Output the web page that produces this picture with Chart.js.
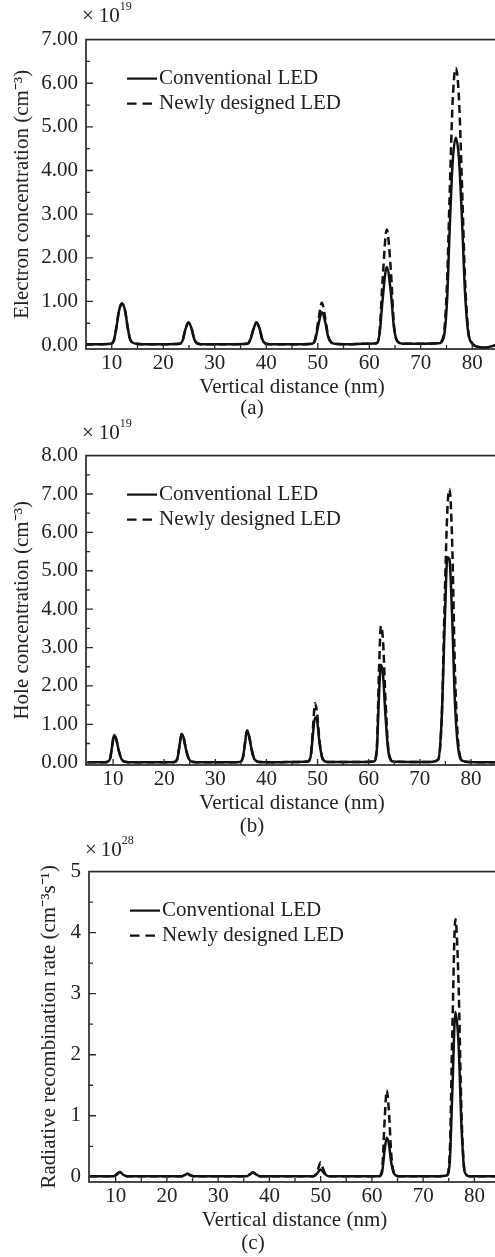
<!DOCTYPE html>
<html>
<head>
<meta charset="utf-8">
<script src="https://cdn.jsdelivr.net/npm/chart.js"></script>
<style>
body { margin: 0; width: 495px; height: 1257px; overflow: hidden; background: #fff; position: relative; font-family: "Liberation Serif", serif; color: #222; }
canvas { position: absolute; left: 0; }
.exp { position: absolute; font-size: 21px; line-height: 21px; white-space: nowrap; }
.exp sup { font-size: 12px; vertical-align: baseline; position: relative; top: -12px; }
.cap { position: absolute; width: 60px; text-align: center; font-size: 21px; line-height: 21px; }
</style>
</head>
<body>
<canvas id="chartA" width="500" height="381" style="top:19px"></canvas>
<canvas id="chartB" width="500" height="381" style="top:435px"></canvas>
<canvas id="chartC" width="502" height="382" style="top:851px"></canvas>

<div class="exp" style="left:82px;top:5px">×<span style="padding-left:5px">10</span><sup>19</sup></div>
<div class="exp" style="left:82px;top:422px">×<span style="padding-left:5px">10</span><sup>19</sup></div>
<div class="exp" style="left:85px;top:839px">×<span style="padding-left:4px">10</span><sup>28</sup></div>

<div class="cap" style="left:222px;top:397px">(a)</div>
<div class="cap" style="left:222px;top:815px">(b)</div>
<div class="cap" style="left:223px;top:1232px">(c)</div>

<script>
// labels and ticks
const seriesLabels = ['Conventional LED', 'Newly designed LED'];
const xTicks = [10, 20, 30, 40, 50, 60, 70, 80];
const yTicksA = [0, 1, 2, 3, 4, 5, 6, 7];
const yTicksB = [0, 1, 2, 3, 4, 5, 6, 7, 8];
const yTicksC = [0, 1, 2, 3, 4, 5];

// (a) electron concentration, x1e19 cm-3
const xA = [5, 8, 9.8, 10.4, 10.9, 11.4, 12.0, 12.6, 13.1, 13.6, 14.4, 16,
    20, 23.2, 23.8, 24.3, 24.9, 25.5, 26.0, 26.6, 27.4, 30,
    33, 36.3, 36.9, 37.5, 38.1, 38.7, 39.2, 39.8, 40.6, 44,
    47, 48.9, 49.5, 50.1, 50.8, 51.5, 52.0, 52.6, 53.4, 56,
    59, 61.4, 62.0, 62.6, 63.4, 64.2, 64.8, 65.5, 66.5, 70,
    73.4, 74.4, 75.1, 75.6, 76.2, 76.8, 77.4, 78.0, 78.6, 79.2, 80.0, 81.2, 82.5, 84, 85];
const convA = [0.02, 0.02, 0.03, 0.10, 0.40, 0.78, 0.95, 0.78, 0.40, 0.12, 0.04, 0.02,
    0.02, 0.03, 0.12, 0.36, 0.52, 0.38, 0.14, 0.04, 0.02, 0.02,
    0.02, 0.03, 0.12, 0.36, 0.52, 0.38, 0.14, 0.04, 0.02, 0.02,
    0.02, 0.03, 0.12, 0.45, 0.75, 0.50, 0.20, 0.06, 0.03, 0.02,
    0.03, 0.04, 0.25, 1.05, 1.79, 1.20, 0.40, 0.08, 0.03, 0.03,
    0.04, 0.15, 1.00, 2.60, 4.20, 4.75, 4.30, 2.90, 1.20, 0.30, 0.04, -0.04, -0.06, -0.02, 0.01];
const newA = [0.02, 0.02, 0.03, 0.10, 0.40, 0.78, 0.95, 0.78, 0.40, 0.12, 0.04, 0.02,
    0.02, 0.03, 0.12, 0.36, 0.52, 0.38, 0.14, 0.04, 0.02, 0.02,
    0.02, 0.03, 0.12, 0.36, 0.52, 0.38, 0.14, 0.04, 0.02, 0.02,
    0.02, 0.03, 0.14, 0.55, 0.97, 0.58, 0.22, 0.06, 0.03, 0.02,
    0.03, 0.04, 0.30, 1.50, 2.65, 1.70, 0.45, 0.08, 0.03, 0.03,
    0.04, 0.20, 1.40, 3.40, 5.60, 6.35, 5.70, 3.70, 1.50, 0.35, 0.04, -0.04, -0.06, -0.02, 0.01];

// (b) hole concentration, x1e19 cm-3
const xB = [5, 8, 8.8, 9.4, 9.8, 10.2, 10.6, 11.1, 11.7, 12.6, 15,
    20, 22.0, 22.6, 23.0, 23.4, 23.8, 24.3, 24.9, 25.8, 28,
    33, 34.8, 35.4, 35.8, 36.2, 36.6, 37.1, 37.7, 38.6, 42,
    46, 48.1, 48.7, 49.1, 49.5, 49.9, 50.4, 51.0, 51.9, 55,
    59, 61.0, 61.6, 62.0, 62.4, 62.8, 63.3, 63.9, 64.8, 68,
    72, 73.6, 74.3, 74.9, 75.4, 75.8, 76.3, 76.9, 77.6, 78.5, 81, 85.3];
const convB = [0.01, 0.01, 0.02, 0.10, 0.42, 0.72, 0.62, 0.32, 0.08, 0.02, 0.01,
    0.01, 0.02, 0.12, 0.45, 0.75, 0.65, 0.32, 0.08, 0.02, 0.01,
    0.01, 0.02, 0.14, 0.50, 0.84, 0.70, 0.34, 0.08, 0.02, 0.01,
    0.02, 0.03, 0.20, 0.75, 1.18, 1.10, 0.50, 0.10, 0.02, 0.02,
    0.02, 0.03, 0.35, 1.70, 2.55, 2.30, 1.20, 0.25, 0.03, 0.02,
    0.02, 0.08, 1.20, 3.70, 5.35, 5.30, 3.90, 1.50, 0.30, 0.04, 0.01, 0.01];
const newB = [0.01, 0.01, 0.02, 0.10, 0.42, 0.72, 0.62, 0.32, 0.08, 0.02, 0.01,
    0.01, 0.02, 0.12, 0.45, 0.75, 0.65, 0.32, 0.08, 0.02, 0.01,
    0.01, 0.02, 0.14, 0.50, 0.84, 0.70, 0.34, 0.08, 0.02, 0.01,
    0.02, 0.03, 0.22, 0.90, 1.55, 1.30, 0.55, 0.10, 0.02, 0.02,
    0.02, 0.03, 0.40, 2.30, 3.56, 3.20, 1.60, 0.30, 0.03, 0.02,
    0.02, 0.08, 1.20, 4.40, 6.60, 7.13, 5.90, 2.30, 0.40, 0.04, 0.01, 0.01];

// (c) radiative recombination rate, x1e28 cm-3 s-1
const xC = [5, 8, 9.6, 10.2, 10.8, 11.4, 12.2, 15,
    20, 22.9, 23.5, 24.0, 24.5, 25.2, 28,
    33, 35.6, 36.2, 36.8, 37.4, 38.1, 42,
    46, 48.6, 49.3, 49.7, 50.0, 50.4, 50.9, 51.6, 55,
    59, 61.4, 62.0, 62.5, 62.9, 63.3, 63.8, 64.4, 65.2, 69,
    73, 74.6, 75.2, 75.7, 76.3, 76.9, 77.5, 78.1, 79.0, 82, 85];
const convC = [0.01, 0.01, 0.01, 0.04, 0.08, 0.04, 0.01, 0.01,
    0.01, 0.01, 0.03, 0.05, 0.03, 0.01, 0.01,
    0.01, 0.01, 0.04, 0.07, 0.04, 0.01, 0.01,
    0.01, 0.01, 0.05, 0.10, 0.12, 0.09, 0.04, 0.01, 0.01,
    0.01, 0.01, 0.08, 0.45, 0.64, 0.55, 0.22, 0.04, 0.01, 0.01,
    0.01, 0.02, 0.25, 1.40, 2.70, 2.20, 0.80, 0.08, 0.01, 0.01, 0.01];
const newC = [0.01, 0.01, 0.01, 0.04, 0.08, 0.04, 0.01, 0.01,
    0.01, 0.01, 0.03, 0.05, 0.03, 0.01, 0.01,
    0.01, 0.01, 0.04, 0.07, 0.04, 0.01, 0.01,
    0.01, 0.01, 0.08, 0.18, 0.24, 0.15, 0.05, 0.01, 0.01,
    0.01, 0.01, 0.12, 0.95, 1.42, 1.10, 0.35, 0.05, 0.01, 0.01,
    0.01, 0.03, 0.40, 2.40, 4.22, 3.20, 1.00, 0.10, 0.01, 0.01, 0.01];

Chart.defaults.font.family = '"Liberation Serif", "Times New Roman", serif';
Chart.defaults.font.size = 21;
Chart.defaults.color = '#222';

// box, inward ticks and legend
const framePlugin = {
    id: 'frame',
    afterDatasetsDraw(chart) {
        const ctx = chart.ctx;
        const a = chart.chartArea;
        const xs = chart.scales.x;
        const ys = chart.scales.y;
        ctx.save();
        ctx.strokeStyle = '#2a2a2a';
        ctx.lineWidth = 1.7;
        ctx.setLineDash([]);
        ctx.strokeRect(a.left, a.top, a.right - a.left, a.bottom - a.top);
        ctx.beginPath();
        ctx.lineWidth = 1.3;
        for (let v = 5; v <= xs.max; v += 5) {
            const px = xs.getPixelForValue(v);
            if (px <= a.left + 2) continue;
            const len = v % 10 === 0 ? 6 : 4;
            ctx.moveTo(px, a.bottom);
            ctx.lineTo(px, a.bottom - len);
        }
        for (let v = 0; v <= ys.max + 1e-9; v += 0.5) {
            const py = ys.getPixelForValue(v);
            if (py < a.top + 2) continue;
            const len = v % 1 === 0 ? 7 : 4;
            ctx.moveTo(a.left, py);
            ctx.lineTo(a.left + len, py);
        }
        ctx.stroke();
        ctx.font = '21px "Liberation Serif"';
        ctx.fillStyle = '#222';
        ctx.textBaseline = 'middle';
        chart.data.datasets.forEach((ds, i) => {
            const y = a.top + 39 + i * 25;
            ctx.beginPath();
            ctx.lineWidth = 2.2;
            ctx.strokeStyle = '#111';
            if (ds.borderDash.length) {
                ctx.setLineDash([9.5, 6]);
                ctx.moveTo(a.left + 41, y);
                ctx.lineTo(a.left + 67, y);
            } else {
                ctx.setLineDash([]);
                ctx.moveTo(a.left + 41, y);
                ctx.lineTo(a.left + 71, y);
            }
            ctx.stroke();
            ctx.fillText(ds.label, a.left + 73, y);
        });
        ctx.restore();
    }
};

function toPoints(xs, ys) {
    return xs.map((x, i) => ({x: x, y: ys[i]}));
}

function makePanel(id, xs, conv, newer, p) {
    const ctx = document.getElementById(id).getContext('2d');
    return new Chart(ctx, {
        type: 'line',
        data: {
            datasets: [{
                label: seriesLabels[0],
                data: toPoints(xs, conv),
                borderColor: '#111',
                borderWidth: 2.5,
                borderDash: [],
                pointRadius: 0,
                cubicInterpolationMode: 'monotone',
                fill: false
            }, {
                label: seriesLabels[1],
                data: toPoints(xs, newer),
                borderColor: '#111',
                borderWidth: 2.5,
                borderDash: [8, 4.5],
                pointRadius: 0,
                cubicInterpolationMode: 'monotone',
                fill: false
            }]
        },
        options: {
            responsive: false,
            animation: false,
            devicePixelRatio: 1,
            layout: {padding: {top: 14, left: 0, right: 2, bottom: 0}},
            plugins: {legend: {display: false}, tooltip: {enabled: false}},
            scales: {
                x: {
                    type: 'linear',
                    min: p.xmin,
                    max: p.xmax,
                    grid: {display: false, drawTicks: false},
                    border: {display: false},
                    ticks: {padding: 2, color: '#222'},
                    afterBuildTicks: s => { s.ticks = xTicks.map(v => ({value: v})); },
                    afterFit: s => { s.height = 51; },
                    title: {display: true, text: 'Vertical distance (nm)', color: '#222', padding: {top: 0, bottom: 0}}
                },
                y: {
                    min: p.ymin,
                    max: p.ymax,
                    grid: {display: false, drawTicks: false},
                    border: {display: false},
                    ticks: {padding: 8, color: '#222', callback: v => p.digits ? v.toFixed(p.digits) : String(v)},
                    afterBuildTicks: s => { s.ticks = p.yTicks.map(v => ({value: v})); },
                    afterFit: s => { s.width = p.left; },
                    title: {display: true, text: p.yTitle, color: '#222', padding: {top: p.titlePad, bottom: 0}}
                }
            }
        },
        plugins: [framePlugin]
    });
}

makePanel('chartA', xA, convA, newA, {
    xmin: 5, xmax: 85, ymin: -0.09, ymax: 7, yTicks: yTicksA, digits: 2, left: 86, titlePad: 10,
    yTitle: 'Electron concentration (cm⁻³)'
});
makePanel('chartB', xB, convB, newB, {
    xmin: 4.7, xmax: 85.3, ymin: -0.06, ymax: 8, yTicks: yTicksB, digits: 2, left: 86, titlePad: 10,
    yTitle: 'Hole concentration (cm⁻³)'
});
makePanel('chartC', xC, convC, newC, {
    xmin: 4.8, xmax: 85, ymin: -0.085, ymax: 5, yTicks: yTicksC, digits: 0, left: 89, titlePad: 37,
    yTitle: 'Radiative recombination rate (cm⁻³s⁻¹)'
});
</script>
</body>
</html>
